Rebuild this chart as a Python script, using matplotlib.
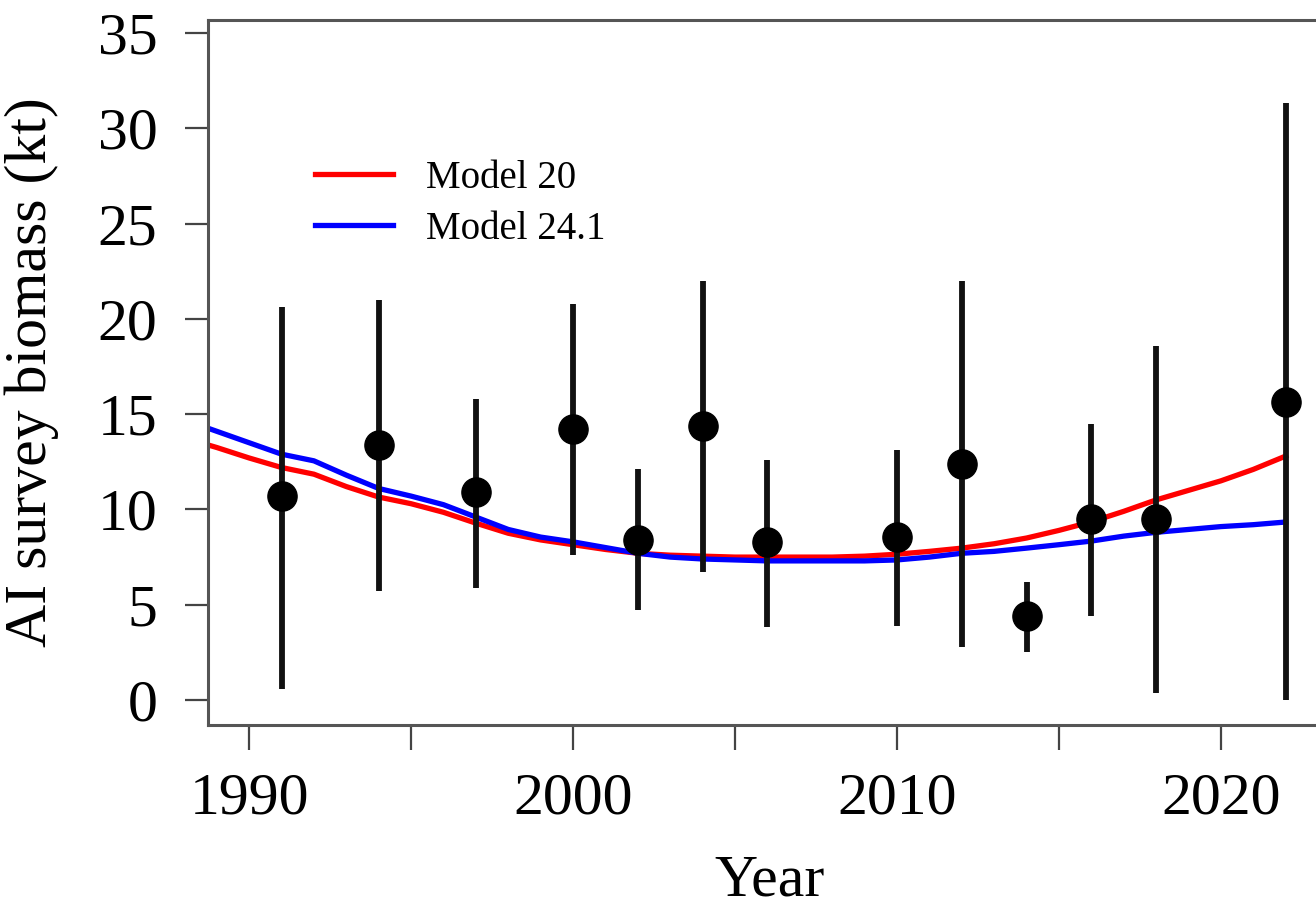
import matplotlib
matplotlib.use("Agg")
import matplotlib.pyplot as plt
import numpy as np

# AI survey observations with intervals (kt)
survey_years = [1991, 1994, 1997, 2000, 2002, 2004, 2006, 2010, 2012, 2014, 2016, 2018, 2022]
survey_biomass = [10.7, 13.4, 10.9, 14.2, 8.4, 14.4, 8.3, 8.55, 12.4, 4.4, 9.5, 9.5, 15.65]
survey_lower = [0.6, 5.7, 5.9, 7.6, 4.7, 6.7, 3.85, 3.9, 2.8, 2.5, 4.4, 0.37, 0.0]
survey_upper = [20.6, 21.0, 15.8, 20.8, 12.1, 22.0, 12.6, 13.1, 22.0, 6.2, 14.5, 18.6, 31.3]

# model fits
model_years = list(range(1988, 2023))
model20 = [13.75, 13.25, 12.7, 12.2, 11.85, 11.2, 10.65, 10.3, 9.85, 9.28,
           8.75, 8.4, 8.15, 7.9, 7.7, 7.6, 7.55, 7.5, 7.5, 7.5,
           7.5, 7.55, 7.65, 7.8, 7.97, 8.2, 8.5, 8.9, 9.35, 9.9,
           10.5, 11.0, 11.5, 12.1, 12.8]
model241 = [14.7, 14.1, 13.5, 12.9, 12.55, 11.8, 11.1, 10.7, 10.25, 9.6,
            8.95, 8.55, 8.3, 8.0, 7.7, 7.5, 7.4, 7.35, 7.3, 7.3,
            7.3, 7.3, 7.35, 7.5, 7.7, 7.8, 7.97, 8.15, 8.34, 8.6,
            8.8, 8.95, 9.1, 9.2, 9.34]

plt.rcParams['font.family'] = ['Liberation Serif', 'DejaVu Serif']

W, H = 1316, 908
fig = plt.figure(figsize=(W / 100, H / 100), dpi=100)
ax = fig.add_axes([208 / W, 1 - 725 / H, 1123 / W, 705 / H])

ax.plot(model_years, model20, color='red', lw=3.8, label='Model 20', zorder=2)
ax.plot(model_years, model241, color='blue', lw=3.8, label='Model 24.1', zorder=2)

y = np.array(survey_biomass)
ax.vlines(survey_years, survey_lower, survey_upper, color='#111111', lw=4.2, zorder=3)
ax.plot(survey_years, y, 'o', color='black', ms=21, zorder=4)

ax.set_xlim(1988.73, 2023.4)
ax.set_ylim(-1.31, 35.68)
ax.set_xticks([1990, 2000, 2010, 2020])
ax.set_xticks([1995, 2005, 2015], minor=True)
ax.set_yticks(range(0, 36, 5))

for s in ax.spines.values():
    s.set_color('#555555')
    s.set_linewidth(2.2)

ax.tick_params(axis='both', which='both', color='#444444', width=1.6, labelsize=43)
ax.tick_params(axis='y', length=16.5, pad=20)
ax.tick_params(axis='x', which='both', length=18, pad=16)

ax.set_xlabel('Year', fontsize=43, labelpad=20)
ax.set_ylabel('AI survey biomass (kt)', fontsize=43, labelpad=28)

ax.legend(loc='upper left', bbox_to_anchor=(315 / W, 1 - 160 / H), bbox_transform=fig.transFigure,
          frameon=False, fontsize=28, handlelength=2.0, handletextpad=0.85,
          labelspacing=0.35, borderpad=0, borderaxespad=0)

fig.savefig('out.png', dpi=100)
